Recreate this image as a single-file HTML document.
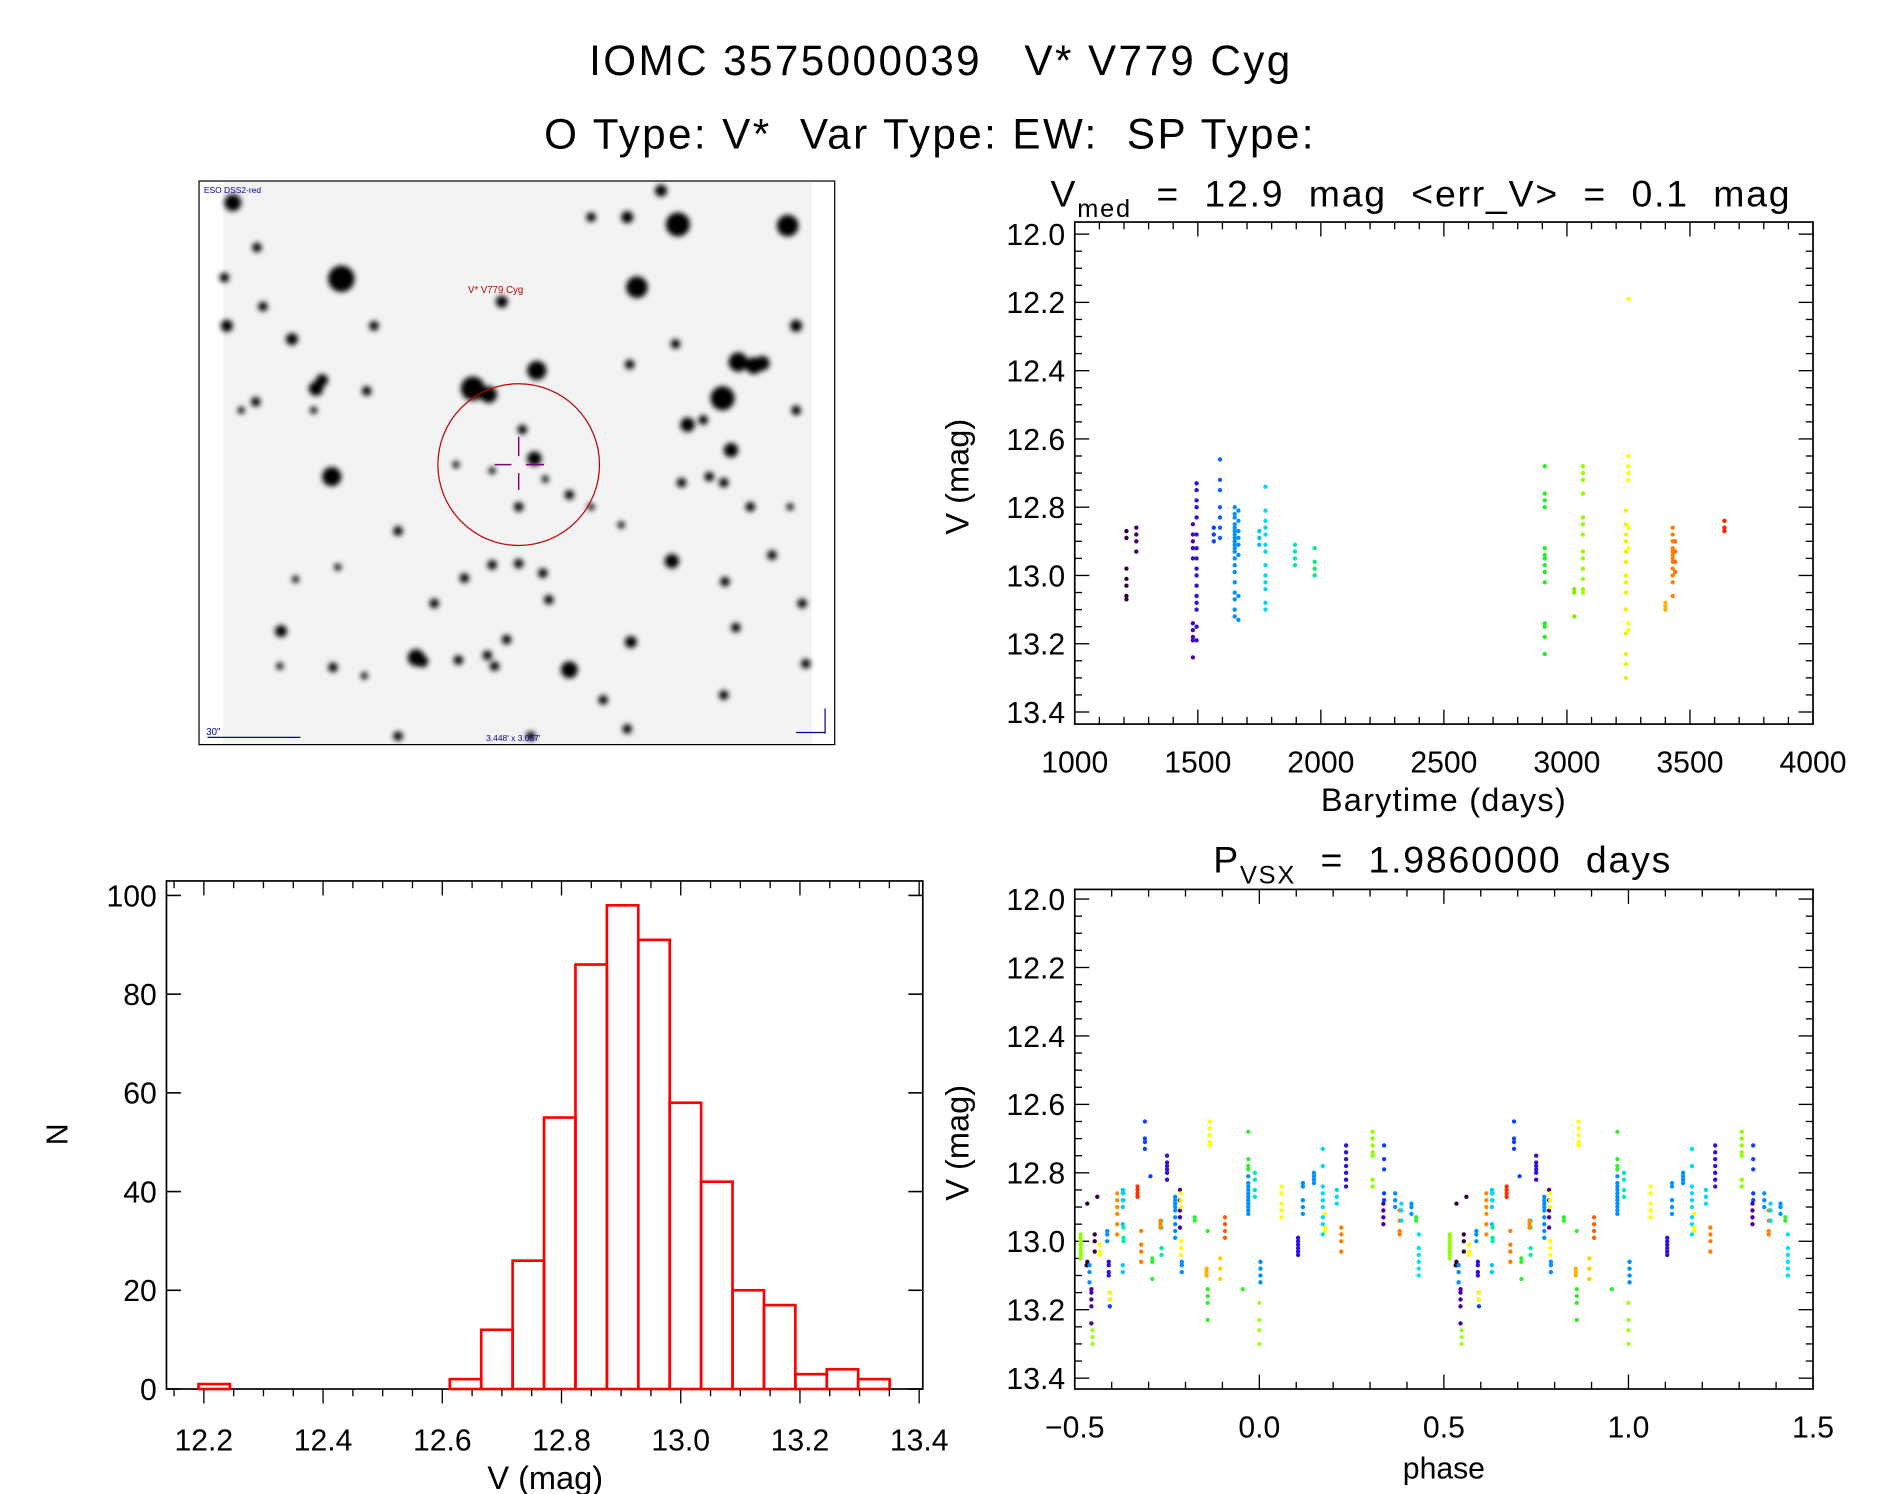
<!DOCTYPE html>
<html><head><meta charset="utf-8"><style>
html,body{margin:0;padding:0;background:#fff;}
svg{display:block;font-family:"Liberation Sans",sans-serif;}
svg text{white-space:pre;}
</style></head><body>
<svg id="fig" width="1889" height="1494" viewBox="0 0 1566 1238" preserveAspectRatio="none" xmlns="http://www.w3.org/2000/svg" xml:space="preserve">
<defs><filter id="blur" x="-50%" y="-50%" width="200%" height="200%"><feGaussianBlur stdDeviation="2.2"/></filter></defs>
<text x="780" y="62" font-size="35" text-anchor="middle" letter-spacing="2">IOMC 3575000039   V* V779 Cyg</text>
<text x="771" y="123" font-size="35" text-anchor="middle" letter-spacing="2">O Type: V*  Var Type: EW:  SP Type:</text>
<g id="sky">
<rect x="165" y="150" width="527" height="467" fill="#fff" stroke="#000" stroke-width="1"/>
<rect x="185" y="151" width="488" height="465" fill="#f3f3f3"/>
<g id="stars" filter="url(#blur)"></g>
<circle cx="430" cy="385" r="67" fill="none" stroke="#c00000" stroke-width="1"/>
<g stroke="#800080" stroke-width="1.2"><line x1="410" y1="385" x2="424" y2="385"/><line x1="436" y1="385" x2="451" y2="385"/><line x1="430" y1="362" x2="430" y2="378"/><line x1="430" y1="392" x2="430" y2="406"/></g>
<text x="388" y="243" font-size="8" fill="#c00000">V* V779 Cyg</text>
<text x="169" y="160" font-size="7" fill="#0000a0">ESO DSS2-red</text>
<text x="171" y="609" font-size="8" fill="#0000a0">30"</text>
<line x1="172" y1="611" x2="249" y2="611" stroke="#0000a0" stroke-width="1"/>
<text x="403" y="614" font-size="7" fill="#0000a0">3.448' x 3.057'</text>
<line x1="684" y1="587" x2="684" y2="608" stroke="#0000a0"/><line x1="660" y1="607" x2="684" y2="607" stroke="#0000a0"/>
</g>
<g id="lc"></g>
<g id="ph"></g>
<g id="hist"></g>
</svg>
<script>
// ---------- Light curve data ----------
const lcGroupTimes = [1210,1250,1480,1495,1565,1590,1650,1665,1750,1775,1895,1975,2910,3030,3065,3240,3250,3400,3430,3440,3640];
const lcGroupColors = ["#300038","#4a0060","#5000b0","#3010e0","#1040ff","#1060ff","#0090ff","#0090ff","#00c0ff","#00d8ff","#00e8b0","#00f078","#20f020","#80f000","#90ff00","#f0f000","#ffff00","#ffb000","#ff8000","#ff7000","#ff2000"];
const lcGroupMags = [
 [12.87,12.89,12.98,13.01,13.03,13.06,13.07],
 [12.86,12.88,12.90,12.93],
 [12.85,12.88,12.90,12.92,12.95,13.14,13.16,13.19,13.24,13.18],
 [12.73,12.75,12.78,12.80,12.83,12.88,12.92,12.95,12.98,13.00,13.03,13.06,13.08,13.10,13.15,13.19],
 [12.86,12.88,12.90],
 [12.66,12.72,12.75,12.80,12.83,12.86,12.89],
 [12.80,12.82,12.83,12.85,12.86,12.87,12.88,12.89,12.90,12.91,12.92,12.93,12.95,12.97,12.99,13.02,13.05,13.07,13.10,13.12],
 [12.81,12.84,12.87,12.89,12.91,12.94,13.06,13.13],
 [12.87,12.89,12.91],
 [12.74,12.81,12.84,12.86,12.88,12.91,12.93,12.97,13.00,13.02,13.04,13.08,13.10],
 [12.91,12.93,12.95,12.97],
 [12.92,12.96,12.98,13.00],
 [12.68,12.76,12.78,12.80,12.92,12.94,12.95,12.97,12.99,13.02,13.14,13.15,13.18,13.23],
 [13.04,13.05,13.12],
 [12.68,12.70,12.72,12.76,12.83,12.85,12.88,12.93,12.95,12.98,13.01,13.04,13.05],
 [12.81,12.85,12.88,12.90,12.93,12.96,13.00,13.02,13.05,13.10,13.17,13.23,13.26,13.30],
 [12.19,12.65,12.68,12.70,12.72,12.86,12.92,13.14,13.16],
 [13.08,13.09,13.10],
 [12.86,12.88,12.90,12.92,12.93,12.94,12.95,12.96,12.98,13.00,13.02,13.06],
 [12.90,12.93,12.96,12.99],
 [12.84,12.86,12.87]
];
const lcXTicks = [1000,1500,2000,2500,3000,3500,4000];
const magTicks = [12.0,12.2,12.4,12.6,12.8,13.0,13.2,13.4];

// ---------- Phase data (phase in [-0.5,0.5), drawn again at +1) ----------
const phClusterPhase = [-0.484,-0.466,-0.439,-0.468,-0.446,-0.455,-0.452,-0.460,-0.412,-0.408,-0.405,-0.405,-0.432,-0.385,-0.370,-0.368,-0.368,-0.310,-0.295,-0.330,-0.320,-0.290,-0.250,-0.265,-0.268,-0.228,-0.215,-0.212,-0.210,-0.175,-0.135,-0.140,-0.140,-0.143,-0.093,-0.106,-0.030,-0.030,-0.012,0.000,-0.045,0.003,0.060,0.105,0.118,0.148,0.172,0.210,0.235,0.222,0.178,0.307,0.338,0.336,0.368,0.380,0.385,0.412,0.425,0.432];
const phClusterColors = ["#90ff00","#300038","#300038","#300038","#300038","#5000a0","#a0ff20","#0090ff","#0090ff","#3010e0","#1040ff","#ffff00","#ffff00","#ff8c00","#00c8ff","#00f0a0","#00d8ff","#1040ff","#1040ff","#ff3000","#ff8000","#30f030","#3010e0","#00f0a0","#ff8c00","#0090ff","#5000a0","#ffff00","#0090ff","#30f030","#ffff00","#30f030","#30f030","#ffb000","#ff6000","#ffd000","#30f030","#0090ff","#00e8c0","#a0ff20","#30f030","#0090ff","#ffff00","#3010e0","#0090ff","#0090ff","#00d8ff","#00d8ff","#3010e0","#ff8000","#ffff00","#90ff00","#1040ff","#5000a0","#0090ff","#ff8000","#00d8ff","#0090ff","#30f030","#00e0ff"];
const phClusterMags = [
 [12.98,12.99,13.00,13.01,13.02,13.03,13.04,13.05],[12.89,13.07,13.06],[12.87],[13.07],[12.98,13.00,13.03],
 [13.14,13.15,13.17,13.19,13.24],[13.26,13.28,13.30],[13.07,13.09,13.12],[12.97,12.98,13.00],[13.06,13.07,13.09,13.10],
 [13.15,13.17,13.19],[13.15,13.17],[13.01,13.03,13.04],[12.86,12.88,12.90,12.92,12.95,12.98],[12.85,12.86,12.88,12.90,12.95,13.07,13.09],
 [12.96,12.99,13.00],[12.86,12.88],[12.65,12.70,12.71,12.73],[12.81],[12.84,12.85,12.86,12.87],
 [12.97,13.01,13.03,13.06],[13.05,13.06,13.11],[12.75,12.77,12.78,12.79,12.80,12.82],[12.94,12.96,13.02,13.04],[12.94,12.95,12.96],
 [12.87,12.88,12.89,12.90,12.91,12.93,12.95,12.97,12.99],[12.85,12.88,12.91,12.93,12.96],[12.86,12.88,12.90,13.00,13.02,13.04],[13.06,13.07,13.09],[12.93,12.94],
 [12.65,12.67,12.69,12.71,12.72],[12.97,13.16,13.18,13.23],[13.14],[13.08,13.09,13.10],[12.93,12.95,12.97,12.99],
 [13.05,13.08,13.11],[12.68,12.76,12.78,12.79],[12.81,12.83,12.84,12.85,12.86,12.87,12.88,12.89,12.90,12.91,12.92],[12.80,12.82,12.85,12.87],[13.18,13.23,13.26,13.30],
 [13.14],[13.06,13.08,13.10,13.12],[12.84,12.86,12.89,12.91,12.93],[12.99,13.00,13.01,13.02,13.03,13.04],[12.83,12.84,12.88,12.90,12.92],
 [12.80,12.81,12.82,12.83],[12.73,12.78,12.84,12.86,12.88,12.90,12.93,12.95,12.98],[12.85,12.87,12.89],[12.72,12.74,12.76,12.78,12.80,12.82,12.84],[12.96,12.98,13.00,13.03],
 [12.92,12.96,12.97],[12.68,12.70,12.72,12.74,12.75,12.82,12.84],[12.72,12.76,12.79,12.86,12.88],[12.89,12.91,12.93,12.95],[12.86,12.88,12.90],
 [12.91,12.94,12.97,12.98],[12.89,12.91,12.94],[12.89,12.90,12.92],[12.93,12.94],[12.98,13.02,13.04,13.06,13.08,13.10]
];
const phXTicks = [-0.5,0.0,0.5,1.0,1.5];
const phXLabels = ["\u22120.5","0.0","0.5","1.0","1.5"];

// ---------- Histogram data ----------
const histBinStart = 12.191;
const histBinWidth = 0.0527;
const histCounts = [1,0,0,0,0,0,0,0,2,12,26,55,86,98,91,58,42,20,17,3,4,2];
const histXTicks = [12.2,12.4,12.6,12.8,13.0,13.2,13.4];
const histYTicks = [0,20,40,60,80,100];

const NS = "http://www.w3.org/2000/svg";
function mk(parent, tag, attrs, text){
  const e = document.createElementNS(NS, tag);
  for (const k in attrs) e.setAttribute(k, attrs[k]);
  if (text !== undefined) e.textContent = text;
  parent.appendChild(e); return e;
}
function line(g,x1,y1,x2,y2,w){ return mk(g,"line",{x1:x1,y1:y1,x2:x2,y2:y2,stroke:"#000","stroke-width":w||1.3}); }

// Sky stars (decorative)
const starList = [[193,168,7],[283,231,11],[528,238,9],[562,186,10],[653,187,9],[599,330,10],[392,322,10],[405,327,7],[445,307,8],[262,322,6],[267,315,5],[275,395,8],[345,545,7],[350,548,5],[472,555,7],[557,465,6],[606,373,6],[612,300,8],[625,303,7],[632,301,6],[570,352,6],[416,250,5],[433,356,4],[443,380,6],[213,205,4],[242,281,5],[218,254,4],[490,180,4],[520,180,5],[548,158,5],[660,270,5],[233,523,5],[380,547,4],[404,543,4],[500,580,4],[523,532,5],[600,576,4],[188,270,5],[186,230,4],[304,324,4],[260,340,3],[212,333,4],[408,468,4],[430,467,4],[450,475,4],[385,479,4],[472,410,4],[455,497,4],[601,482,4],[522,302,4],[583,348,4],[565,400,4],[600,400,4],[622,420,4],[660,340,4],[665,500,4],[668,550,4],[640,460,4],[610,520,4],[330,610,4],[440,610,4],[520,604,4],[276,553,4],[302,560,3],[232,552,3],[420,530,4],[410,552,4],[310,270,4],[200,340,3],[330,440,4],[360,500,4],[490,420,3],[515,435,3],[280,470,3],[245,480,3],[560,285,4],[588,395,4],[655,420,3],[430,420,4],[452,397,3],[408,390,3],[378,385,3]];
const sg = document.getElementById("stars");
starList.forEach(s=>{ const c = mk(sg,"circle",{cx:s[0],cy:s[1],r:s[2],fill:"#000"});

 });

// ---------- Generic frame drawing ----------
function drawMagFrame(g, x0, x1, yTop, yBot, y12, y134, xMin, xMax, xMajor, xMinorStep, xLabels, xLabelVals){
  const ys = m => y12 + (m-12.0)/1.4*(y134-y12);
  const xs = v => x0 + (v-xMin)/(xMax-xMin)*(x1-x0);
  const frame = mk(g,"rect",{x:x0,y:yTop,width:x1-x0,height:yBot-yTop,fill:"none",stroke:"#000","stroke-width":1.4});
  
  
  for (let m=12.0; m<=13.401; m+=0.05){
    const y = ys(m); const maj = Math.abs(m/0.2 - Math.round(m/0.2))<0.01;
    const L = maj?12:6;
    line(g,x0,y,x0+L,y,1.1); line(g,x1-L,y,x1,y,1.1);
  }
  magTicks.forEach(m=>{
    const t = mk(g,"text",{x:x0-8,y:ys(m)+9,"font-size":25,"text-anchor":"end"}, m.toFixed(1));
    
    
  });
  for (let v=xMin; v<=xMax+1e-9; v+=xMinorStep){
    const x = xs(v); const maj = Math.abs(v/xMajor - Math.round(v/xMajor))<1e-6;
    const L = maj?12:6;
    line(g,x,yBot,x,yBot-L,1.1); line(g,x,yTop,x,yTop+L,1.1);
  }
  xLabelVals.forEach((v,i)=>{
    const t = mk(g,"text",{x:xs(v),y:yBot+40,"font-size":25,"text-anchor":"middle"}, xLabels[i]);
    
    
  });
  return {xs, ys};
}

// ---------- Light curve ----------
const lc = document.getElementById("lc");
const lcAx = drawMagFrame(lc, 891, 1503, 184, 600, 194, 590, 1000, 4000, 500, 100, lcXTicks.map(String), lcXTicks);
lcGroupTimes.forEach((t,gi)=>{
  lcGroupMags[gi].forEach(m=>{
    const d = mk(lc,"circle",{cx:lcAx.xs(t),cy:lcAx.ys(m),r:1.8,fill:lcGroupColors[gi]});
    
    
  });
});
let tt = mk(lc,"text",{x:1178,y:171,"font-size":31,"text-anchor":"middle","letter-spacing":1.5});


tt.innerHTML = 'V<tspan font-size="21" dy="9">med</tspan><tspan dy="-9">  =  12.9  mag  &lt;err_V&gt;  =  0.1  mag</tspan>';
tt = mk(lc,"text",{x:1197,y:672,"font-size":27,"text-anchor":"middle","letter-spacing":1},"Barytime (days)");


tt = mk(lc,"text",{x:0,y:0,"font-size":27,"text-anchor":"middle",transform:"translate(803,395) rotate(-90)"},"V (mag)");



// ---------- Phase plot ----------
const ph = document.getElementById("ph");
const phAx = drawMagFrame(ph, 891, 1503, 737, 1151, 745, 1142, -0.5, 1.5, 0.5, 0.1, phXLabels, phXTicks);
[0,1].forEach(shift=>{
  phClusterPhase.forEach((p,ci)=>{
    phClusterMags[ci].forEach((m,k)=>{
      const d = mk(ph,"circle",{cx:phAx.xs(p+shift),cy:phAx.ys(m),r:1.8,fill:phClusterColors[ci]});
      
      
    });
  });
});
tt = mk(ph,"text",{x:1196,y:723,"font-size":31,"text-anchor":"middle","letter-spacing":1.5});


tt.innerHTML = 'P<tspan font-size="21" dy="9">VSX</tspan><tspan dy="-9">  =  1.9860000  days</tspan>';
tt = mk(ph,"text",{x:1197,y:1225,"font-size":25,"text-anchor":"middle"},"phase");


tt = mk(ph,"text",{x:0,y:0,"font-size":27,"text-anchor":"middle",transform:"translate(803,947) rotate(-90)"},"V (mag)");



// ---------- Histogram ----------
const hg = document.getElementById("hist");
const hx0=138, hx1=765, hyTop=730, hyBot=1151;
const hxs = v => 169 + (v-12.2)/1.2*(762-169);
const hys = n => hyBot - n/100*(hyBot-742);
const hf = mk(hg,"rect",{x:hx0,y:hyTop,width:hx1-hx0,height:hyBot-hyTop,fill:"none",stroke:"#000","stroke-width":1.4});


histCounts.forEach((c,i)=>{
  const a = hxs(histBinStart+i*histBinWidth), b = hxs(histBinStart+(i+1)*histBinWidth);
  const r = mk(hg,"rect",{x:a,y:hys(c),width:b-a,height:hyBot-hys(c),fill:"none",stroke:"#ff0000","stroke-width":2.2});
  
  
});
histYTicks.forEach(n=>{
  const y = hys(n);
  line(hg,hx0,y,hx0+12,y,1.3); line(hg,hx1-12,y,hx1,y,1.3);
  const t = mk(hg,"text",{x:hx0-8,y:y+9,"font-size":25,"text-anchor":"end"}, String(n));
  
  
});
for (let v=12.15; v<=13.401; v+=0.05){
  const x = hxs(v); const maj = Math.abs(v/0.2 - Math.round(v/0.2))<1e-6;
  const L = maj?12:6;
  line(hg,x,hyBot,x,hyBot+L,1.1); line(hg,x,hyTop,x,hyTop+L,1.1);
}
histXTicks.forEach(v=>{
  const t = mk(hg,"text",{x:hxs(v),y:1202,"font-size":25,"text-anchor":"middle"}, v.toFixed(1));
  
  
});
tt = mk(hg,"text",{x:452,y:1234,"font-size":27,"text-anchor":"middle"},"V (mag)");


tt = mk(hg,"text",{x:0,y:0,"font-size":25,"text-anchor":"middle",transform:"translate(56,940) rotate(-90)"},"N");


</script>
</body></html>
